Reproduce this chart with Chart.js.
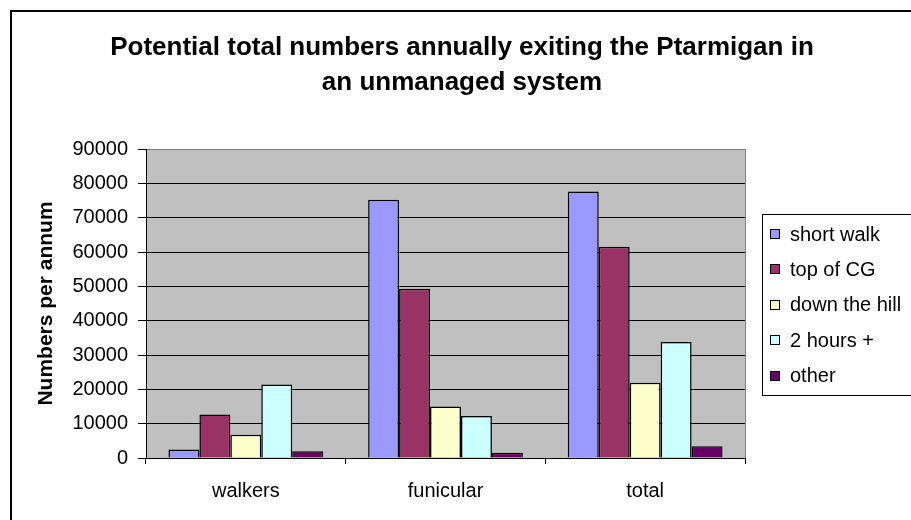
<!DOCTYPE html>
<html>
<head>
<meta charset="utf-8">
<script src="https://cdn.jsdelivr.net/npm/chart.js@4.4.1/dist/chart.umd.min.js"></script>
<style>
  html, body { margin: 0; padding: 0; background: #fff; }
  #wrap { position: relative; width: 911px; height: 520px; }
</style>
</head>
<body>
<div id="wrap"><canvas id="exits"></canvas></div>
<script>
const categories = ['walkers', 'funicular', 'total']

const shortWalk  = [2500, 75200, 77600]
const topOfCG    = [12700, 49300, 61500]
const downHill   = [6800, 15000, 21900]
const twoHours   = [21400, 12200, 33800]
const other      = [2000, 1500, 3400]

const seriesNames  = ['short walk', 'top of CG', 'down the hill', '2 hours +', 'other']
const seriesColors = ['#9999FF', '#993366', '#FFFFCC', '#CCFFFF', '#660066']

const titleLines = ['Potential total numbers annually exiting the Ptarmigan in', 'an unmanaged system']
const yTitle = 'Numbers per annum'

const FONT = "'Liberation Sans', Arial, sans-serif"

const datasets = [shortWalk, topOfCG, downHill, twoHours, other].map((vals, i) => ({
    label: seriesNames[i],
    data: vals,
    backgroundColor: seriesColors[i],
    borderColor: '#000',
    borderWidth: 1.5,
    categoryPercentage: 0.775,
    barPercentage: 1
}))

// grey plot background, frame lines, title and the boxed legend
const decorations = {
    id: 'decorations',
    beforeDraw(chart) {
        const { ctx, chartArea: a } = chart
        ctx.save()
        ctx.fillStyle = '#C0C0C0'
        ctx.fillRect(a.left, a.top, a.right - a.left, a.bottom - a.top)
        ctx.restore()
    },
    afterDraw(chart) {
        const { ctx, chartArea: a } = chart
        ctx.save()

        // plot area right edge
        ctx.strokeStyle = '#808080'
        ctx.lineWidth = 1
        ctx.beginPath()
        ctx.moveTo(Math.round(a.right) + 0.5, a.top)
        ctx.lineTo(Math.round(a.right) + 0.5, a.bottom)
        ctx.stroke()

        // outer chart frame
        ctx.strokeStyle = '#000'
        ctx.lineWidth = 2
        ctx.beginPath()
        ctx.moveTo(11, 520)
        ctx.lineTo(11, 11)
        ctx.lineTo(911, 11)
        ctx.stroke()

        // title
        ctx.fillStyle = '#000'
        ctx.font = 'bold 26px ' + FONT
        ctx.textAlign = 'center'
        ctx.textBaseline = 'alphabetic'
        ctx.fillText(titleLines[0], 462, 55)
        ctx.fillText(titleLines[1], 462, 90)

        // legend
        ctx.lineWidth = 1
        ctx.strokeStyle = '#000'
        ctx.strokeRect(762.5, 214.5, 160, 181)
        ctx.font = '20px ' + FONT
        ctx.textAlign = 'left'
        ctx.textBaseline = 'middle'
        chart.data.datasets.forEach((ds, i) => {
            const y = 234 + i * 35.4
            ctx.fillStyle = ds.backgroundColor
            ctx.fillRect(770.5, Math.round(y) - 4.5, 9, 9)
            ctx.strokeRect(770.5, Math.round(y) - 4.5, 9, 9)
            ctx.fillStyle = '#000'
            ctx.fillText(ds.label, 790, y + 1)
        })
        ctx.restore()
    }
}

new Chart(document.getElementById('exits'), {
    type: 'bar',
    data: { labels: categories, datasets: datasets },
    plugins: [decorations],
    options: {
        responsive: true,
        maintainAspectRatio: false,
        animation: false,
        layout: { padding: { left: 0, top: 149, right: 166, bottom: 0 } },
        plugins: {
            legend: { display: false },
            title: { display: false },
            tooltip: { enabled: false }
        },
        scales: {
            x: {
                afterFit: scale => { scale.height = 62 },
                grid: {
                    offset: true,
                    drawOnChartArea: false,
                    drawTicks: true,
                    tickLength: 6,
                    tickColor: '#000'
                },
                border: { display: true, color: '#000', width: 1 },
                ticks: {
                    color: '#000',
                    padding: 15,
                    font: { family: FONT, size: 20 }
                }
            },
            y: {
                min: 0,
                max: 90000,
                afterFit: scale => { scale.width = 146 },
                grid: {
                    color: c => (c.tick && c.tick.value === 90000) ? '#808080' : '#000',
                    tickColor: '#000',
                    tickLength: 8,
                    lineWidth: 1
                },
                border: { display: true, color: '#000', width: 1 },
                ticks: {
                    stepSize: 10000,
                    color: '#000',
                    padding: 10,
                    font: { family: FONT, size: 20 },
                    callback: v => String(v)
                },
                title: {
                    display: true,
                    text: yTitle,
                    color: '#000',
                    font: { family: FONT, size: 21, weight: 'bold', lineHeight: 1 },
                    padding: { top: 35.5, bottom: 0 }
                }
            }
        }
    }
})
</script>
</body>
</html>
